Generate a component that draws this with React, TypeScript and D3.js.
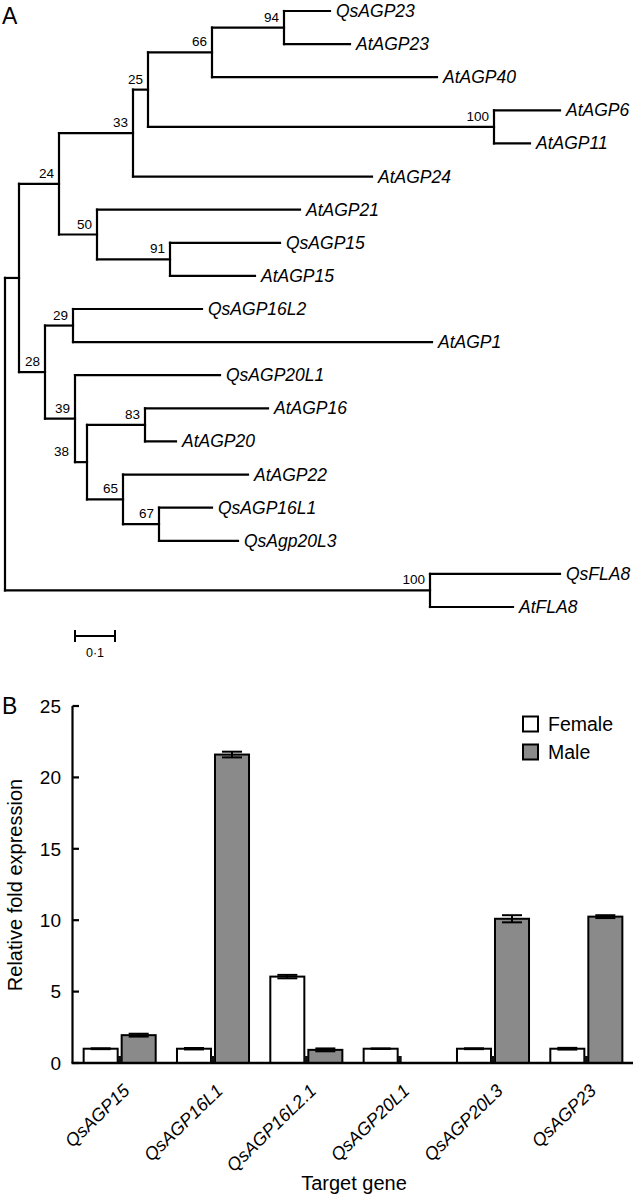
import React from "react";
import * as d3 from "d3";

const W = 633;
const H = 1198;
const FONT = "'Liberation Sans', Arial, Helvetica, sans-serif";

// ---------- Panel A: phylogenetic tree ----------
const nodeIds = [
  "root", "nA", "n24", "n33", "n25", "n66", "n94", "QsAGP23", "AtAGP23", "AtAGP40",
  "n100a", "AtAGP6", "AtAGP11", "AtAGP24", "n50", "AtAGP21", "n91", "QsAGP15", "AtAGP15",
  "n28", "n29", "QsAGP16L2", "AtAGP1", "n39", "QsAGP20L1", "n38", "n83", "AtAGP16", "AtAGP20",
  "n65", "AtAGP22", "n67", "QsAGP16L1", "QsAgp20L3", "nFLA", "QsFLA8", "AtFLA8",
];
const nodeParents = [
  "", "root", "nA", "n24", "n33", "n25", "n66", "n94", "n94", "n66",
  "n25", "n100a", "n100a", "n33", "n24", "n50", "n50", "n91", "n91",
  "nA", "n28", "n29", "n29", "n28", "n39", "n39", "n38", "n83", "n83",
  "n38", "n65", "n65", "n67", "n67", "root", "nFLA", "nFLA",
];
const branchLengths = [
  0, 0.035, 0.1, 0.185, 0.0375, 0.16, 0.18, 0.115, 0.165, 0.5625,
  0.865, 0.165, 0.09, 0.5975, 0.095, 0.5075, 0.1825, 0.275, 0.2125,
  0.065, 0.07, 0.3225, 0.8975, 0.075, 0.3625, 0.03, 0.145, 0.3075, 0.0775,
  0.09, 0.3125, 0.09, 0.1325, 0.1975, 1.0625, 0.325, 0.2075,
];
const bootstrapValues = [
  null, null, 24, 33, 25, 66, 94, null, null, null,
  100, null, null, null, 50, null, 91, null, null,
  28, 29, null, null, 39, null, 38, 83, null, null,
  65, null, 67, null, null, 100, null, null,
];
const scaleBarValue = 0.1;
const scaleBarLabel = "0·1";

// ---------- Panel B: bar chart ----------
const genes = ["QsAGP15", "QsAGP16L1", "QsAGP16L2.1", "QsAGP20L1", "QsAGP20L3", "QsAGP23"];
const seriesNames = ["Female", "Male"];
const femaleValues = [1.0, 1.0, 6.05, 1.0, 1.0, 1.0];
const femaleErrors = [0.03, 0.05, 0.12, 0.02, 0.03, 0.06];
const maleValues: (number | null)[] = [1.95, 21.6, 0.92, null, 10.1, 10.25];
const maleErrors: (number | null)[] = [0.1, 0.2, 0.1, null, 0.25, 0.1];
const yTicks = [0, 5, 10, 15, 20, 25];

type TNode = { id: string; parent: string; len: number; boot: number | null };

function Tree() {
  const rows: TNode[] = nodeIds.map((id, i) => ({
    id,
    parent: nodeParents[i],
    len: branchLengths[i],
    boot: bootstrapValues[i],
  }));
  const root = d3
    .stratify<TNode>()
    .id((d) => d.id)
    .parentId((d) => (d.parent === "" ? null : d.parent))(rows);

  const xScale = d3.scaleLinear().domain([0, 1]).range([5, 405]);
  const dist = new Map<string, number>();
  root.each((n: any) => {
    const pd = n.parent ? dist.get(n.parent.id)! : 0;
    dist.set(n.id, pd + n.data.len);
  });
  const leaves = root.leaves();
  const yLeaf = d3
    .scalePoint<string>()
    .domain(leaves.map((l) => l.id as string))
    .range([11, 607]);
  const Y = new Map<string, number>();
  root.eachAfter((n: any) => {
    if (!n.children) Y.set(n.id, yLeaf(n.id)!);
    else {
      const c = n.children;
      Y.set(n.id, (Y.get(c[0].id)! + Y.get(c[c.length - 1].id)!) / 2);
    }
  });
  const X = (n: any) => xScale(dist.get(n.id)!);

  const segs: JSX.Element[] = [];
  const labels: JSX.Element[] = [];
  const bootFs = 13.5;
  root.each((n: any) => {
    const x = X(n);
    const y = Y.get(n.id)!;
    if (n.parent) {
      segs.push(
        <line key={"h" + n.id} x1={X(n.parent)} x2={x} y1={y} y2={y} />
      );
    }
    if (n.children) {
      const c = n.children;
      segs.push(
        <line key={"v" + n.id} x1={x} x2={x} y1={Y.get(c[0].id)!} y2={Y.get(c[c.length - 1].id)!} />
      );
      if (n.data.boot != null) {
        const txt = String(n.data.boot);
        const w = txt.length * 0.556 * bootFs;
        let ax = x - 5;
        const by = y - 6;
        if (n.parent) {
          const px = X(n.parent);
          const pc = n.parent.children;
          const py0 = Y.get(pc[0].id)!;
          const py1 = Y.get(pc[pc.length - 1].id)!;
          if (px > ax - w - 1 && px < ax + 1 && by - 10 < py1 && by > py0) ax = px - 6;
        }
        labels.push(
          <text key={"b" + n.id} x={ax} y={by} textAnchor="end" fontSize={bootFs}>
            {txt}
          </text>
        );
      }
    } else {
      labels.push(
        <text key={"l" + n.id} x={x + 6} y={y + 6} fontSize={17.5} fontStyle="italic">
          {n.id}
        </text>
      );
    }
  });

  const sbX0 = 75;
  const sbX1 = sbX0 + (xScale(scaleBarValue) - xScale(0));
  const sbY = 636;

  return (
    <g>
      <text x={2} y={24} fontSize={23}>A</text>
      <g stroke="#000" strokeWidth={2.2} strokeLinecap="square">{segs}</g>
      <g fill="#000">{labels}</g>
      <g stroke="#000" strokeWidth={2}>
        <line x1={sbX0} x2={sbX1} y1={sbY} y2={sbY} />
        <line x1={sbX0} x2={sbX0} y1={sbY - 6} y2={sbY + 6} />
        <line x1={sbX1} x2={sbX1} y1={sbY - 6} y2={sbY + 6} />
      </g>
      <text x={(sbX0 + sbX1) / 2} y={657} fontSize={12.5} textAnchor="middle">
        {scaleBarLabel}
      </text>
    </g>
  );
}

function Bars() {
  const x0 = d3.scaleBand<string>().domain(genes).range([73, 633]);
  const x1 = d3
    .scaleBand<string>()
    .domain(seriesNames)
    .range([0, x0.bandwidth()])
    .paddingInner(0.105)
    .paddingOuter(0.28);
  const y = d3.scaleLinear().domain([0, 25]).range([1063, 706]);
  const bw = x1.bandwidth();
  const capW = 20;

  const items: JSX.Element[] = [];
  genes.forEach((g, i) => {
    const series = [
      { s: "Female", v: femaleValues[i], e: femaleErrors[i], fill: "#fff" },
      { s: "Male", v: maleValues[i], e: maleErrors[i], fill: "#8a8a8a" },
    ];
    series.forEach((d) => {
      if (d.v == null) return;
      const bx = x0(g)! + x1(d.s)!;
      const cx = bx + bw / 2;
      items.push(
        <rect key={g + d.s} x={bx} y={y(d.v)} width={bw} height={y(0) - y(d.v)}
          fill={d.fill} stroke="#000" strokeWidth={2} />
      );
      const e = d.e ?? 0;
      items.push(
        <g key={g + d.s + "e"} stroke="#000" strokeWidth={2}>
          <line x1={cx} x2={cx} y1={y(d.v + e)} y2={y(d.v - e)} />
          <line x1={cx - capW / 2} x2={cx + capW / 2} y1={y(d.v + e)} y2={y(d.v + e)} />
          <line x1={cx - capW / 2} x2={cx + capW / 2} y1={y(d.v - e)} y2={y(d.v - e)} />
        </g>
      );
    });
    const fx = x0(g)! + x1("Female")! + bw;
    const mx = x0(g)! + x1("Male")!;
    items.push(<rect key={g + "gap"} x={fx} y={y(0) - 7} width={mx - fx} height={7} fill="#111" />);
  });

  return (
    <g>
      <text x={2} y={714} fontSize={23}>B</text>
      {items}
      {/* y axis */}
      <g stroke="#000" strokeWidth={2.2}>
        <line x1={72.5} x2={72.5} y1={y(25)} y2={y(0)} />
        {yTicks.map((t) => (
          <line key={t} x1={72.5} x2={79} y1={y(t)} y2={y(t)} />
        ))}
      </g>
      <line x1={71.5} x2={633} y1={y(0)} y2={y(0)} stroke="#000" strokeWidth={2.6} />
      {yTicks.map((t) => (
        <text key={"t" + t} x={61} y={y(t) + 6.8} fontSize={19} textAnchor="end">
          {t}
        </text>
      ))}
      <text transform={`translate(22,885) rotate(-90)`} fontSize={20} textAnchor="middle">
        Relative fold expression
      </text>
      {genes.map((g) => {
        const cx = x0(g)! + x0.bandwidth() / 2;
        return (
          <text key={"x" + g} transform={`translate(${cx + 11},1092) rotate(-44)`}
            fontSize={18} fontStyle="italic" textAnchor="end">
            {g}
          </text>
        );
      })}
      <text x={354} y={1190} fontSize={20} textAnchor="middle">Target gene</text>
      {/* legend */}
      {seriesNames.map((s, i) => (
        <g key={"lg" + s}>
          <rect x={523} y={716.5 + i * 28} width={15} height={15}
            fill={s === "Female" ? "#fff" : "#8a8a8a"} stroke="#000" strokeWidth={2} />
          <text x={548} y={730.5 + i * 28} fontSize={19.5}>{s}</text>
        </g>
      ))}
    </g>
  );
}

export default function App() {
  return (
    <svg width={W} height={H} viewBox={`0 0 ${W} ${H}`}
      style={{ position: "absolute", left: 0, top: 0, display: "block", background: "#fff" }}
      fontFamily={FONT}>
      <rect width={W} height={H} fill="#fff" />
      <Tree />
      <Bars />
    </svg>
  );
}
